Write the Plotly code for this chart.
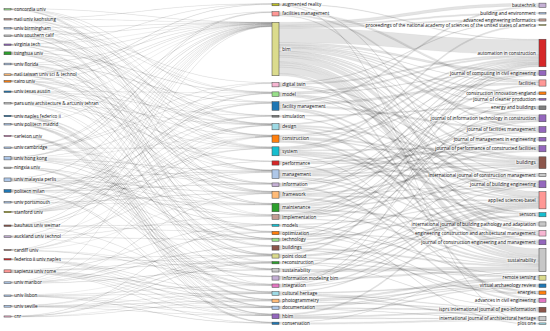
import plotly.graph_objects as go

# ---------------- data ----------------
univs = ["concordia univ", "natl univ kaohsiung", "univ birmingham", "univ southern calif",
         "virginia tech", "tsinghua univ", "univ florida", "natl taiwan univ sci & technol",
         "cairo univ", "univ texas austin", "pars univ architecture & art;univ tehran",
         "univ naples federico ii", "univ politecn madrid", "carleton univ", "univ cambridge",
         "univ hong kong", "ningxia univ", "univ malaysia perlis", "politecn milan",
         "univ portsmouth", "stanford univ", "bauhaus univ weimar", "auckland univ technol",
         "cardiff univ", "federico ii univ naples", "sapienza univ rome", "univ maribor",
         "univ lisbon", "univ seville", "cnr"]

keywords = ["augmented reality", "facilities management", "bim", "digital twin", "model",
            "facility management", "simulation", "design", "construction", "system",
            "performance", "management", "information", "framework", "maintenance",
            "implementation", "models", "optimization", "technology", "buildings",
            "point cloud", "reconstruction", "sustainability", "information modeling bim",
            "integration", "cultural heritage", "photogrammetry", "documentation", "hbim",
            "conservation"]

journals = ["bautechnik", "building and environment", "advanced engineering informatics",
            "proceedings of the national academy of sciences of the united states of america",
            "automation in construction", "journal of computing in civil engineering",
            "facilities", "construction innovation-england", "journal of cleaner production",
            "energy and buildings", "journal of information technology in construction",
            "journal of facilities management", "journal of management in engineering",
            "journal of performance of constructed facilities", "buildings",
            "international journal of construction management", "journal of building engineering",
            "applied sciences-basel", "sensors",
            "international journal of building pathology and adaptation",
            "engineering construction and architectural management",
            "journal of construction engineering and management", "sustainability",
            "remote sensing", "virtual archaeology review", "energies",
            "advances in civil engineering", "isprs international journal of geo-information",
            "international journal of architectural heritage", "plos one"]

# university -> keyword
univ_links = [
    ("concordia univ", "bim", 0.1), ("concordia univ", "facility management", 0.2), ("concordia univ", "maintenance", 0.2),
    ("concordia univ", "framework", 0.15), ("concordia univ", "system", 0.15), ("concordia univ", "design", 0.1),
    ("concordia univ", "implementation", 0.1),
    ("natl univ kaohsiung", "bim", 0.1), ("natl univ kaohsiung", "design", 0.2), ("natl univ kaohsiung", "construction", 0.2),
    ("natl univ kaohsiung", "augmented reality", 0.15), ("natl univ kaohsiung", "information", 0.15),
    ("natl univ kaohsiung", "model", 0.1), ("natl univ kaohsiung", "buildings", 0.1),
    ("univ birmingham", "bim", 0.1), ("univ birmingham", "model", 0.2), ("univ birmingham", "digital twin", 0.2),
    ("univ birmingham", "management", 0.15), ("univ birmingham", "sustainability", 0.15),
    ("univ birmingham", "framework", 0.1), ("univ birmingham", "simulation", 0.1),
    ("univ southern calif", "bim", 0.1), ("univ southern calif", "system", 0.2), ("univ southern calif", "management", 0.2),
    ("univ southern calif", "construction", 0.15), ("univ southern calif", "technology", 0.15),
    ("univ southern calif", "design", 0.1), ("univ southern calif", "optimization", 0.1),
    ("virginia tech", "bim", 0.1), ("virginia tech", "augmented reality", 0.2), ("virginia tech", "construction", 0.2),
    ("virginia tech", "design", 0.15), ("virginia tech", "simulation", 0.15), ("virginia tech", "technology", 0.1),
    ("virginia tech", "point cloud", 0.1),
    ("tsinghua univ", "bim", 0.3), ("tsinghua univ", "system", 0.3), ("tsinghua univ", "model", 0.3),
    ("tsinghua univ", "optimization", 0.3), ("tsinghua univ", "framework", 0.3), ("tsinghua univ", "point cloud", 0.3),
    ("tsinghua univ", "reconstruction", 0.1), ("tsinghua univ", "management", 0.1),
    ("univ florida", "bim", 0.1), ("univ florida", "facility management", 0.3), ("univ florida", "information", 0.2),
    ("univ florida", "maintenance", 0.2), ("univ florida", "integration", 0.2), ("univ florida", "management", 0.1),
    ("univ florida", "technology", 0.1),
    ("natl taiwan univ sci & technol", "bim", 0.1), ("natl taiwan univ sci & technol", "augmented reality", 0.3),
    ("natl taiwan univ sci & technol", "maintenance", 0.2), ("natl taiwan univ sci & technol", "facilities management", 0.2),
    ("natl taiwan univ sci & technol", "implementation", 0.2), ("natl taiwan univ sci & technol", "design", 0.1),
    ("natl taiwan univ sci & technol", "information", 0.1),
    ("cairo univ", "bim", 0.1), ("cairo univ", "sustainability", 0.3), ("cairo univ", "buildings", 0.3),
    ("cairo univ", "performance", 0.15), ("cairo univ", "optimization", 0.15), ("cairo univ", "design", 0.1),
    ("cairo univ", "system", 0.1),
    ("univ texas austin", "bim", 0.1), ("univ texas austin", "construction", 0.2), ("univ texas austin", "point cloud", 0.2),
    ("univ texas austin", "model", 0.15), ("univ texas austin", "simulation", 0.15), ("univ texas austin", "management", 0.1),
    ("univ texas austin", "framework", 0.1),
    ("pars univ architecture & art;univ tehran", "bim", 0.15), ("pars univ architecture & art;univ tehran", "performance", 0.15),
    ("pars univ architecture & art;univ tehran", "design", 0.2), ("pars univ architecture & art;univ tehran", "buildings", 0.15),
    ("pars univ architecture & art;univ tehran", "framework", 0.15),
    ("pars univ architecture & art;univ tehran", "sustainability", 0.1),
    ("pars univ architecture & art;univ tehran", "system", 0.1),
    ("univ naples federico ii", "hbim", 0.1), ("univ naples federico ii", "cultural heritage", 0.2),
    ("univ naples federico ii", "documentation", 0.2), ("univ naples federico ii", "point cloud", 0.15),
    ("univ naples federico ii", "photogrammetry", 0.15), ("univ naples federico ii", "reconstruction", 0.1),
    ("univ naples federico ii", "conservation", 0.1),
    ("univ politecn madrid", "bim", 0.15), ("univ politecn madrid", "photogrammetry", 0.15),
    ("univ politecn madrid", "conservation", 0.2), ("univ politecn madrid", "cultural heritage", 0.15),
    ("univ politecn madrid", "hbim", 0.15), ("univ politecn madrid", "documentation", 0.1),
    ("univ politecn madrid", "point cloud", 0.1),
    ("carleton univ", "hbim", 0.2), ("carleton univ", "documentation", 0.2), ("carleton univ", "conservation", 0.2),
    ("carleton univ", "cultural heritage", 0.1), ("carleton univ", "photogrammetry", 0.1),
    ("univ cambridge", "bim", 0.1), ("univ cambridge", "digital twin", 0.3), ("univ cambridge", "facilities management", 0.2),
    ("univ cambridge", "information", 0.2), ("univ cambridge", "model", 0.1), ("univ cambridge", "system", 0.1),
    ("univ hong kong", "bim", 0.3), ("univ hong kong", "management", 0.4), ("univ hong kong", "implementation", 0.3),
    ("univ hong kong", "facilities management", 0.3), ("univ hong kong", "technology", 0.3),
    ("univ hong kong", "maintenance", 0.2), ("univ hong kong", "facility management", 0.2),
    ("univ hong kong", "construction", 0.1), ("univ hong kong", "information", 0.1),
    ("ningxia univ", "information modeling bim", 0.2), ("ningxia univ", "models", 0.2), ("ningxia univ", "sustainability", 0.2),
    ("ningxia univ", "integration", 0.1), ("ningxia univ", "technology", 0.1),
    ("univ malaysia perlis", "bim", 0.3), ("univ malaysia perlis", "management", 0.4), ("univ malaysia perlis", "framework", 0.4),
    ("univ malaysia perlis", "implementation", 0.4), ("univ malaysia perlis", "integration", 0.4),
    ("univ malaysia perlis", "information modeling bim", 0.3), ("univ malaysia perlis", "maintenance", 0.1),
    ("univ malaysia perlis", "technology", 0.1),
    ("politecn milan", "bim", 0.2), ("politecn milan", "facility management", 0.4), ("politecn milan", "maintenance", 0.3),
    ("politecn milan", "information", 0.3), ("politecn milan", "simulation", 0.3), ("politecn milan", "hbim", 0.3),
    ("politecn milan", "documentation", 0.1), ("politecn milan", "management", 0.1),
    ("univ portsmouth", "bim", 0.1), ("univ portsmouth", "framework", 0.3), ("univ portsmouth", "system", 0.2),
    ("univ portsmouth", "digital twin", 0.2), ("univ portsmouth", "maintenance", 0.1),
    ("univ portsmouth", "facility management", 0.1),
    ("stanford univ", "bim", 0.1), ("stanford univ", "design", 0.2), ("stanford univ", "performance", 0.2),
    ("stanford univ", "construction", 0.15), ("stanford univ", "model", 0.15), ("stanford univ", "simulation", 0.1),
    ("stanford univ", "system", 0.1),
    ("bauhaus univ weimar", "bim", 0.1), ("bauhaus univ weimar", "model", 0.3), ("bauhaus univ weimar", "integration", 0.2),
    ("bauhaus univ weimar", "models", 0.2), ("bauhaus univ weimar", "design", 0.1), ("bauhaus univ weimar", "optimization", 0.1),
    ("auckland univ technol", "bim", 0.1), ("auckland univ technol", "technology", 0.3),
    ("auckland univ technol", "implementation", 0.3), ("auckland univ technol", "management", 0.3),
    ("auckland univ technol", "construction", 0.1), ("auckland univ technol", "integration", 0.1),
    ("cardiff univ", "bim", 0.1), ("cardiff univ", "information modeling bim", 0.3), ("cardiff univ", "construction", 0.2),
    ("cardiff univ", "design", 0.2), ("cardiff univ", "framework", 0.1), ("cardiff univ", "sustainability", 0.1),
    ("federico ii univ naples", "hbim", 0.1), ("federico ii univ naples", "point cloud", 0.25),
    ("federico ii univ naples", "reconstruction", 0.25), ("federico ii univ naples", "cultural heritage", 0.2),
    ("federico ii univ naples", "documentation", 0.1), ("federico ii univ naples", "photogrammetry", 0.1),
    ("sapienza univ rome", "hbim", 0.2), ("sapienza univ rome", "cultural heritage", 0.4),
    ("sapienza univ rome", "photogrammetry", 0.4), ("sapienza univ rome", "reconstruction", 0.4),
    ("sapienza univ rome", "documentation", 0.2), ("sapienza univ rome", "models", 0.2),
    ("sapienza univ rome", "point cloud", 0.1), ("sapienza univ rome", "conservation", 0.1),
    ("univ maribor", "bim", 0.1), ("univ maribor", "sustainability", 0.3), ("univ maribor", "optimization", 0.3),
    ("univ maribor", "buildings", 0.3), ("univ maribor", "framework", 0.1), ("univ maribor", "construction", 0.1),
    ("univ lisbon", "hbim", 0.1), ("univ lisbon", "conservation", 0.3), ("univ lisbon", "cultural heritage", 0.2),
    ("univ lisbon", "integration", 0.2), ("univ lisbon", "documentation", 0.1), ("univ lisbon", "reconstruction", 0.1),
    ("univ seville", "hbim", 0.1), ("univ seville", "documentation", 0.3), ("univ seville", "point cloud", 0.3),
    ("univ seville", "photogrammetry", 0.3), ("univ seville", "reconstruction", 0.1),
    ("univ seville", "cultural heritage", 0.1),
    ("cnr", "models", 0.2), ("cnr", "reconstruction", 0.2), ("cnr", "photogrammetry", 0.2),
    ("cnr", "point cloud", 0.1), ("cnr", "cultural heritage", 0.1),
]

# keyword -> journal
kw_links = [
    ("bim", "bautechnik", 2), ("facility management", "bautechnik", 1),
    ("bim", "building and environment", 1),
    ("bim", "advanced engineering informatics", 1), ("digital twin", "advanced engineering informatics", 0.5),
    ("system", "proceedings of the national academy of sciences of the united states of america", 1),
    ("bim", "automation in construction", 10), ("digital twin", "automation in construction", 1),
    ("model", "automation in construction", 1), ("design", "automation in construction", 1),
    ("construction", "automation in construction", 1), ("system", "automation in construction", 1),
    ("management", "automation in construction", 0.5), ("framework", "automation in construction", 0.6),
    ("implementation", "automation in construction", 0.5), ("point cloud", "automation in construction", 1),
    ("augmented reality", "automation in construction", 0.5), ("technology", "automation in construction", 0.4),
    ("integration", "automation in construction", 0.5),
    ("bim", "journal of computing in civil engineering", 1.5), ("model", "journal of computing in civil engineering", 0.5),
    ("information", "journal of computing in civil engineering", 0.5),
    ("optimization", "journal of computing in civil engineering", 0.5),
    ("framework", "journal of computing in civil engineering", 0.4), ("system", "journal of computing in civil engineering", 0.2),
    ("facilities management", "facilities", 1.5), ("facility management", "facilities", 1.5),
    ("maintenance", "facilities", 1), ("bim", "facilities", 0.3),
    ("bim", "construction innovation-england", 1), ("construction", "construction innovation-england", 0.4),
    ("implementation", "construction innovation-england", 0.5),
    ("sustainability", "journal of cleaner production", 0.6), ("bim", "journal of cleaner production", 0.6),
    ("buildings", "energy and buildings", 0.8), ("simulation", "energy and buildings", 0.8),
    ("performance", "energy and buildings", 0.5), ("bim", "energy and buildings", 0.5),
    ("bim", "journal of information technology in construction", 2),
    ("information", "journal of information technology in construction", 0.6),
    ("integration", "journal of information technology in construction", 0.6),
    ("framework", "journal of information technology in construction", 0.6),
    ("technology", "journal of information technology in construction", 0.5),
    ("implementation", "journal of information technology in construction", 0.5),
    ("facility management", "journal of facilities management", 1.2),
    ("facilities management", "journal of facilities management", 1),
    ("maintenance", "journal of facilities management", 1), ("management", "journal of facilities management", 0.9),
    ("management", "journal of management in engineering", 1), ("bim", "journal of management in engineering", 0.3),
    ("implementation", "journal of management in engineering", 0.8),
    ("information", "journal of management in engineering", 0.5),
    ("maintenance", "journal of performance of constructed facilities", 1.2),
    ("performance", "journal of performance of constructed facilities", 0.8),
    ("bim", "journal of performance of constructed facilities", 1),
    ("system", "journal of performance of constructed facilities", 0.7),
    ("management", "journal of performance of constructed facilities", 0.6),
    ("bim", "buildings", 1.4), ("construction", "buildings", 1), ("design", "buildings", 1),
    ("buildings", "buildings", 0.8), ("management", "buildings", 0.8), ("framework", "buildings", 0.8),
    ("model", "buildings", 0.7), ("information modeling bim", "buildings", 0.5),
    ("performance", "buildings", 0.6), ("digital twin", "buildings", 0.5),
    ("bim", "international journal of construction management", 0.5),
    ("construction", "international journal of construction management", 0.7),
    ("management", "international journal of construction management", 0.7),
    ("implementation", "international journal of construction management", 0.5),
    ("bim", "journal of building engineering", 1.0), ("system", "journal of building engineering", 1),
    ("maintenance", "journal of building engineering", 0.8), ("optimization", "journal of building engineering", 0.6),
    ("model", "journal of building engineering", 0.6),
    ("information modeling bim", "journal of building engineering", 0.4),
    ("framework", "journal of building engineering", 0.4),
    ("bim", "applied sciences-basel", 3), ("hbim", "applied sciences-basel", 1),
    ("point cloud", "applied sciences-basel", 0.6), ("system", "applied sciences-basel", 1),
    ("design", "applied sciences-basel", 0.8), ("framework", "applied sciences-basel", 0.8),
    ("models", "applied sciences-basel", 0.6), ("information modeling bim", "applied sciences-basel", 0.8),
    ("technology", "applied sciences-basel", 0.8), ("cultural heritage", "applied sciences-basel", 0.6),
    ("digital twin", "applied sciences-basel", 0.6), ("integration", "applied sciences-basel", 0.8),
    ("augmented reality", "applied sciences-basel", 0.4),
    ("reconstruction", "sensors", 0.6), ("point cloud", "sensors", 0.6), ("system", "sensors", 0.9),
    ("model", "sensors", 0.4), ("digital twin", "sensors", 0.4),
    ("maintenance", "international journal of building pathology and adaptation", 1),
    ("facility management", "international journal of building pathology and adaptation", 1),
    ("bim", "international journal of building pathology and adaptation", 0.9),
    ("bim", "engineering construction and architectural management", 1.5),
    ("management", "engineering construction and architectural management", 0.8),
    ("implementation", "engineering construction and architectural management", 0.5),
    ("facilities management", "engineering construction and architectural management", 0.5),
    ("integration", "engineering construction and architectural management", 0.5),
    ("bim", "journal of construction engineering and management", 1.4),
    ("construction", "journal of construction engineering and management", 1),
    ("simulation", "journal of construction engineering and management", 0.5),
    ("optimization", "journal of construction engineering and management", 0.5),
    ("bim", "sustainability", 4.5), ("sustainability", "sustainability", 1.8), ("design", "sustainability", 1.5),
    ("construction", "sustainability", 1.0), ("management", "sustainability", 0.7),
    ("framework", "sustainability", 1.2), ("information modeling bim", "sustainability", 1.2),
    ("facility management", "sustainability", 1.2), ("maintenance", "sustainability", 0.9),
    ("buildings", "sustainability", 1), ("conservation", "sustainability", 0.4),
    ("optimization", "sustainability", 0.4),
    ("point cloud", "remote sensing", 0.7), ("photogrammetry", "remote sensing", 1.2),
    ("reconstruction", "remote sensing", 0.6), ("documentation", "remote sensing", 0.5),
    ("models", "remote sensing", 0.4),
    ("cultural heritage", "virtual archaeology review", 0.7), ("hbim", "virtual archaeology review", 0.7),
    ("photogrammetry", "virtual archaeology review", 0.5), ("documentation", "virtual archaeology review", 0.5),
    ("performance", "energies", 1), ("buildings", "energies", 0.6), ("system", "energies", 0.4),
    ("optimization", "energies", 0.4),
    ("bim", "advances in civil engineering", 1.5), ("information", "advances in civil engineering", 1),
    ("technology", "advances in civil engineering", 0.4),
    ("hbim", "isprs international journal of geo-information", 1),
    ("documentation", "isprs international journal of geo-information", 0.8),
    ("photogrammetry", "isprs international journal of geo-information", 0.6),
    ("cultural heritage", "isprs international journal of geo-information", 0.6),
    ("reconstruction", "isprs international journal of geo-information", 0.4),
    ("conservation", "international journal of architectural heritage", 1.2),
    ("hbim", "international journal of architectural heritage", 0.6),
    ("cultural heritage", "international journal of architectural heritage", 0.7),
    ("documentation", "international journal of architectural heritage", 0.4),
    ("augmented reality", "plos one", 0.6), ("models", "plos one", 0.5),
]

# ---------------- styles / layout ----------------
univ_colors = ["#98df8a", "#c49c94", "#aec7e8", "#c7c7c7", "#9467bd", "#2ca02c", "#aec7e8", "#ffbb78",
               "#ff7f0e", "#1f77b4", "#c7c7c7", "#1f77b4", "#aec7e8", "#e377c2", "#aec7e8", "#aec7e8",
               "#c7c7c7", "#aec7e8", "#1f77b4", "#aec7e8", "#bcbd22", "#8c564b", "#c5b0d5", "#c49c94",
               "#d62728", "#ff9896", "#aec7e8", "#aec7e8", "#aec7e8", "#f7b6d2"]
keyword_colors = ["#bcbd22", "#ff9896", "#dbdb8d", "#f7b6d2", "#98df8a", "#1f77b4", "#7f7f7f", "#9edae5",
                  "#ff7f0e", "#17becf", "#d62728", "#aec7e8", "#c5b0d5", "#ffbb78", "#2ca02c", "#c49c94",
                  "#17becf", "#ff7f0e", "#98df8a", "#8c564b", "#dbdb8d", "#2ca02c", "#c7c7c7", "#c5b0d5",
                  "#e377c2", "#9edae5", "#ffbb78", "#aec7e8", "#9467bd", "#1f77b4"]
journal_colors = ["#c5b0d5", "#aec7e8", "#c49c94", "#dbdb8d", "#d62728", "#9467bd", "#ff9896", "#ff7f0e",
                  "#9467bd", "#7f7f7f", "#9467bd", "#9467bd", "#9467bd", "#9467bd", "#8c564b", "#c7c7c7",
                  "#9467bd", "#ff9896", "#17becf", "#c7c7c7", "#f7b6d2", "#9467bd", "#c7c7c7", "#dbdb8d",
                  "#1f77b4", "#ff7f0e", "#e377c2", "#8c564b", "#c7c7c7", "#9edae5"]

# node centre positions (pixels in the 550x331 figure)
univ_ypx = [9.3, 19.3, 28.3, 35.7, 44.7, 53.3, 64, 74.7, 81.3, 91.7, 103.3, 116, 124.3, 136, 147.7,
            158.3, 167.7, 179.7, 191, 202.3, 212, 225.7, 236.7, 250, 259.3, 271.3, 282.7, 295.7, 306.3, 316.5]
keyword_ypx = [4.7, 13.8, 49, 84.7, 94.2, 106, 116.2, 126.7, 138.7, 151.3, 163, 174.2, 184.8, 194.7, 207.5,
               217, 225.3, 233, 239.7, 247.8, 256, 262.7, 270.3, 278, 285.7, 293.5, 300.8, 307.7, 316.3, 323.3]
journal_ypx = [5.3, 13.3, 20, 25, 53, 73, 83, 93.3, 99.3, 107.8, 118.3, 129.5, 139.2, 148.7, 162.7, 175,
               184.3, 200.3, 214.7, 224, 233.3, 242.3, 260.2, 277.7, 285.7, 292.7, 300.3, 309.7, 318.7, 323.7]

W, H = 550, 331
THICK = 7
KY = 1.45  # pixels per unit value
col_xpx = [7.5, 275.5, 542.5]

# ---------------- build ----------------
nu, nk, nj = len(univs), len(keywords), len(journals)
labels = univs + keywords + journals
colors = univ_colors + keyword_colors + journal_colors
xs = [col_xpx[0] / W] * nu + [col_xpx[1] / W] * nk + [col_xpx[2] / W] * nj
ys = [y / H for y in univ_ypx + keyword_ypx + journal_ypx]

src, tgt, val = [], [], []
for s, t, v in univ_links:
    src.append(univs.index(s)); tgt.append(nu + keywords.index(t)); val.append(v)
for s, t, v in kw_links:
    src.append(nu + keywords.index(s)); tgt.append(nu + nk + journals.index(t)); val.append(v)

n = len(labels)
inflow = [0.0] * n
outflow = [0.0] * n
for s, t, v in zip(src, tgt, val):
    outflow[s] += v
    inflow[t] += v
nodeval = [max(a, b) for a, b in zip(inflow, outflow)]
col_sums = [sum(nodeval[:nu]), sum(nodeval[nu:nu + nk]), sum(nodeval[nu + nk:])]
pad = (H - KY * max(col_sums)) / (max(nu, nk, nj) - 1)

fig = go.Figure(go.Sankey(
    arrangement="fixed",
    node=dict(label=labels, color=colors, x=xs, y=ys, pad=pad, thickness=THICK,
              line=dict(color="#444", width=0.5)),
    link=dict(source=src, target=tgt, value=val, color="rgba(0,0,0,0.11)",
              line=dict(color="rgba(0,0,0,0.13)", width=0.3)),
    textfont=dict(family="Open Sans", size=4.6, color="#111"),
))
fig.update_layout(width=W, height=H, margin=dict(l=0, r=0, t=0, b=0),
                  paper_bgcolor="white", plot_bgcolor="white")
fig.write_html("out.html", config={"displayModeBar": False},
               post_script="document.body.style.margin='0';document.body.style.padding='0';")
